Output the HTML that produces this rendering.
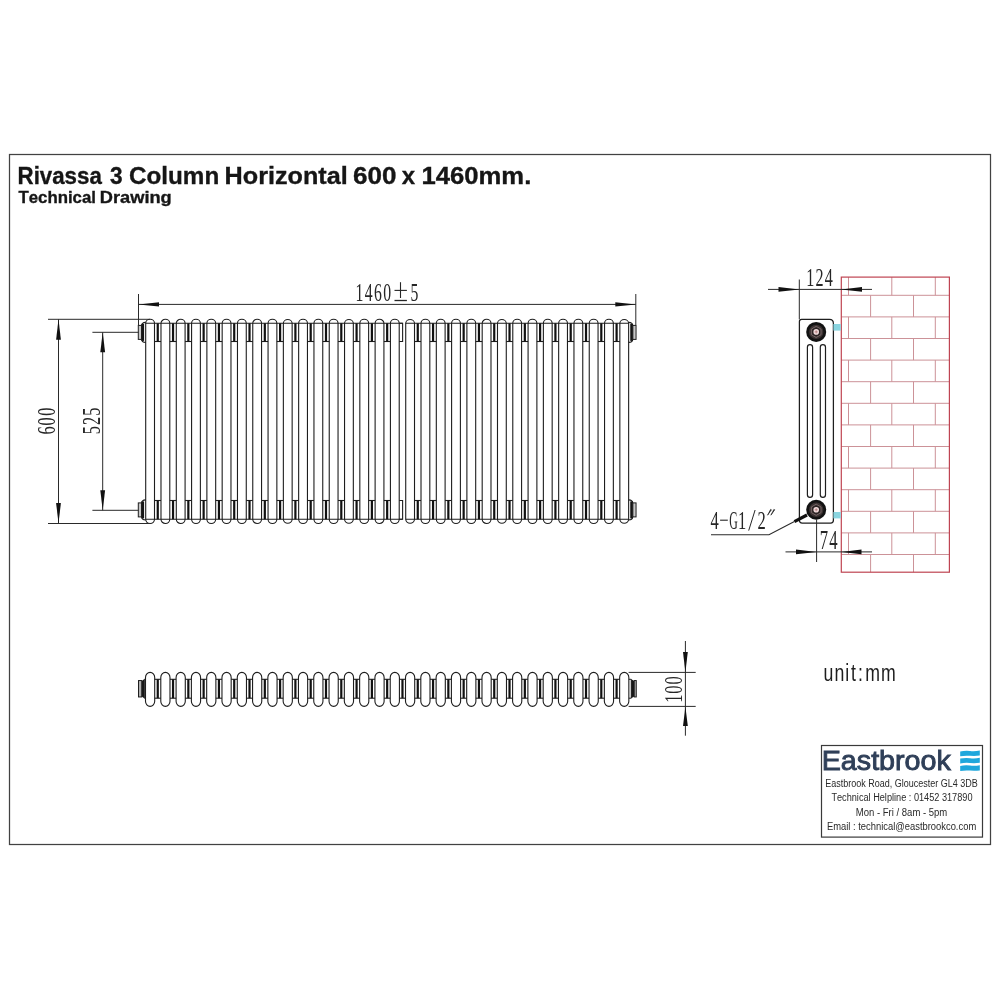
<!DOCTYPE html>
<html><head><meta charset="utf-8">
<style>
html,body{margin:0;padding:0;background:#fff;width:1000px;height:1000px;overflow:hidden}
svg{display:block;will-change:transform}
text{font-kerning:none}
</style></head><body>
<svg width="1000" height="1000" viewBox="0 0 1000 1000">
<rect width="1000" height="1000" fill="#fff"/>
<g fill="none" stroke="#1e1e1e" stroke-width="1.1">
<path d="M145.70,519.30 L145.70,323.30 A4.40,4.00 0 0 1 154.50,323.30 L154.50,519.30 A4.40,4.20 0 0 1 145.70,519.30"/>
<path d="M160.99,519.30 L160.99,323.30 A4.40,4.00 0 0 1 169.79,323.30 L169.79,519.30 A4.40,4.20 0 0 1 160.99,519.30"/>
<path d="M176.29,519.30 L176.29,323.30 A4.40,4.00 0 0 1 185.09,323.30 L185.09,519.30 A4.40,4.20 0 0 1 176.29,519.30"/>
<path d="M191.58,519.30 L191.58,323.30 A4.40,4.00 0 0 1 200.38,323.30 L200.38,519.30 A4.40,4.20 0 0 1 191.58,519.30"/>
<path d="M206.88,519.30 L206.88,323.30 A4.40,4.00 0 0 1 215.68,323.30 L215.68,519.30 A4.40,4.20 0 0 1 206.88,519.30"/>
<path d="M222.17,519.30 L222.17,323.30 A4.40,4.00 0 0 1 230.97,323.30 L230.97,519.30 A4.40,4.20 0 0 1 222.17,519.30"/>
<path d="M237.47,519.30 L237.47,323.30 A4.40,4.00 0 0 1 246.27,323.30 L246.27,519.30 A4.40,4.20 0 0 1 237.47,519.30"/>
<path d="M252.76,519.30 L252.76,323.30 A4.40,4.00 0 0 1 261.56,323.30 L261.56,519.30 A4.40,4.20 0 0 1 252.76,519.30"/>
<path d="M268.06,519.30 L268.06,323.30 A4.40,4.00 0 0 1 276.86,323.30 L276.86,519.30 A4.40,4.20 0 0 1 268.06,519.30"/>
<path d="M283.36,519.30 L283.36,323.30 A4.40,4.00 0 0 1 292.15,323.30 L292.15,519.30 A4.40,4.20 0 0 1 283.36,519.30"/>
<path d="M298.65,519.30 L298.65,323.30 A4.40,4.00 0 0 1 307.45,323.30 L307.45,519.30 A4.40,4.20 0 0 1 298.65,519.30"/>
<path d="M313.95,519.30 L313.95,323.30 A4.40,4.00 0 0 1 322.75,323.30 L322.75,519.30 A4.40,4.20 0 0 1 313.95,519.30"/>
<path d="M329.24,519.30 L329.24,323.30 A4.40,4.00 0 0 1 338.04,323.30 L338.04,519.30 A4.40,4.20 0 0 1 329.24,519.30"/>
<path d="M344.54,519.30 L344.54,323.30 A4.40,4.00 0 0 1 353.33,323.30 L353.33,519.30 A4.40,4.20 0 0 1 344.54,519.30"/>
<path d="M359.83,519.30 L359.83,323.30 A4.40,4.00 0 0 1 368.63,323.30 L368.63,519.30 A4.40,4.20 0 0 1 359.83,519.30"/>
<path d="M375.12,519.30 L375.12,323.30 A4.40,4.00 0 0 1 383.92,323.30 L383.92,519.30 A4.40,4.20 0 0 1 375.12,519.30"/>
<path d="M390.42,519.30 L390.42,323.30 A4.40,4.00 0 0 1 399.22,323.30 L399.22,519.30 A4.40,4.20 0 0 1 390.42,519.30"/>
<path d="M405.72,519.30 L405.72,323.30 A4.40,4.00 0 0 1 414.51,323.30 L414.51,519.30 A4.40,4.20 0 0 1 405.72,519.30"/>
<path d="M421.01,519.30 L421.01,323.30 A4.40,4.00 0 0 1 429.81,323.30 L429.81,519.30 A4.40,4.20 0 0 1 421.01,519.30"/>
<path d="M436.31,519.30 L436.31,323.30 A4.40,4.00 0 0 1 445.11,323.30 L445.11,519.30 A4.40,4.20 0 0 1 436.31,519.30"/>
<path d="M451.60,519.30 L451.60,323.30 A4.40,4.00 0 0 1 460.40,323.30 L460.40,519.30 A4.40,4.20 0 0 1 451.60,519.30"/>
<path d="M466.89,519.30 L466.89,323.30 A4.40,4.00 0 0 1 475.69,323.30 L475.69,519.30 A4.40,4.20 0 0 1 466.89,519.30"/>
<path d="M482.19,519.30 L482.19,323.30 A4.40,4.00 0 0 1 490.99,323.30 L490.99,519.30 A4.40,4.20 0 0 1 482.19,519.30"/>
<path d="M497.49,519.30 L497.49,323.30 A4.40,4.00 0 0 1 506.28,323.30 L506.28,519.30 A4.40,4.20 0 0 1 497.49,519.30"/>
<path d="M512.78,519.30 L512.78,323.30 A4.40,4.00 0 0 1 521.58,323.30 L521.58,519.30 A4.40,4.20 0 0 1 512.78,519.30"/>
<path d="M528.08,519.30 L528.08,323.30 A4.40,4.00 0 0 1 536.88,323.30 L536.88,519.30 A4.40,4.20 0 0 1 528.08,519.30"/>
<path d="M543.37,519.30 L543.37,323.30 A4.40,4.00 0 0 1 552.17,323.30 L552.17,519.30 A4.40,4.20 0 0 1 543.37,519.30"/>
<path d="M558.66,519.30 L558.66,323.30 A4.40,4.00 0 0 1 567.46,323.30 L567.46,519.30 A4.40,4.20 0 0 1 558.66,519.30"/>
<path d="M573.96,519.30 L573.96,323.30 A4.40,4.00 0 0 1 582.76,323.30 L582.76,519.30 A4.40,4.20 0 0 1 573.96,519.30"/>
<path d="M589.25,519.30 L589.25,323.30 A4.40,4.00 0 0 1 598.05,323.30 L598.05,519.30 A4.40,4.20 0 0 1 589.25,519.30"/>
<path d="M604.55,519.30 L604.55,323.30 A4.40,4.00 0 0 1 613.35,323.30 L613.35,519.30 A4.40,4.20 0 0 1 604.55,519.30"/>
<path d="M619.85,519.30 L619.85,323.30 A4.40,4.00 0 0 1 628.64,323.30 L628.64,519.30 A4.40,4.20 0 0 1 619.85,519.30"/>
<line x1="145.70" y1="323.3" x2="402.62" y2="323.3"/>
<line x1="405.72" y1="323.3" x2="628.64" y2="323.3"/>
<line x1="145.70" y1="519.3" x2="402.62" y2="519.3"/>
<line x1="405.72" y1="519.3" x2="628.64" y2="519.3"/>
<line x1="154.50" y1="341.5" x2="160.99" y2="341.5"/>
<line x1="154.50" y1="500.5" x2="160.99" y2="500.5"/>
<line x1="169.79" y1="341.5" x2="176.29" y2="341.5"/>
<line x1="169.79" y1="500.5" x2="176.29" y2="500.5"/>
<line x1="185.09" y1="341.5" x2="191.58" y2="341.5"/>
<line x1="185.09" y1="500.5" x2="191.58" y2="500.5"/>
<line x1="200.38" y1="341.5" x2="206.88" y2="341.5"/>
<line x1="200.38" y1="500.5" x2="206.88" y2="500.5"/>
<line x1="215.68" y1="341.5" x2="222.17" y2="341.5"/>
<line x1="215.68" y1="500.5" x2="222.17" y2="500.5"/>
<line x1="230.97" y1="341.5" x2="237.47" y2="341.5"/>
<line x1="230.97" y1="500.5" x2="237.47" y2="500.5"/>
<line x1="246.27" y1="341.5" x2="252.76" y2="341.5"/>
<line x1="246.27" y1="500.5" x2="252.76" y2="500.5"/>
<line x1="261.56" y1="341.5" x2="268.06" y2="341.5"/>
<line x1="261.56" y1="500.5" x2="268.06" y2="500.5"/>
<line x1="276.86" y1="341.5" x2="283.36" y2="341.5"/>
<line x1="276.86" y1="500.5" x2="283.36" y2="500.5"/>
<line x1="292.15" y1="341.5" x2="298.65" y2="341.5"/>
<line x1="292.15" y1="500.5" x2="298.65" y2="500.5"/>
<line x1="307.45" y1="341.5" x2="313.95" y2="341.5"/>
<line x1="307.45" y1="500.5" x2="313.95" y2="500.5"/>
<line x1="322.75" y1="341.5" x2="329.24" y2="341.5"/>
<line x1="322.75" y1="500.5" x2="329.24" y2="500.5"/>
<line x1="338.04" y1="341.5" x2="344.54" y2="341.5"/>
<line x1="338.04" y1="500.5" x2="344.54" y2="500.5"/>
<line x1="353.33" y1="341.5" x2="359.83" y2="341.5"/>
<line x1="353.33" y1="500.5" x2="359.83" y2="500.5"/>
<line x1="368.63" y1="341.5" x2="375.12" y2="341.5"/>
<line x1="368.63" y1="500.5" x2="375.12" y2="500.5"/>
<line x1="383.92" y1="341.5" x2="390.42" y2="341.5"/>
<line x1="383.92" y1="500.5" x2="390.42" y2="500.5"/>
<polyline points="399.22,323.3 402.62,323.3 402.62,341.5 399.22,341.5"/>
<polyline points="399.22,500.5 402.62,500.5 402.62,519.3 399.22,519.3"/>
<line x1="414.51" y1="341.5" x2="421.01" y2="341.5"/>
<line x1="414.51" y1="500.5" x2="421.01" y2="500.5"/>
<line x1="429.81" y1="341.5" x2="436.31" y2="341.5"/>
<line x1="429.81" y1="500.5" x2="436.31" y2="500.5"/>
<line x1="445.11" y1="341.5" x2="451.60" y2="341.5"/>
<line x1="445.11" y1="500.5" x2="451.60" y2="500.5"/>
<line x1="460.40" y1="341.5" x2="466.89" y2="341.5"/>
<line x1="460.40" y1="500.5" x2="466.89" y2="500.5"/>
<line x1="475.69" y1="341.5" x2="482.19" y2="341.5"/>
<line x1="475.69" y1="500.5" x2="482.19" y2="500.5"/>
<line x1="490.99" y1="341.5" x2="497.49" y2="341.5"/>
<line x1="490.99" y1="500.5" x2="497.49" y2="500.5"/>
<line x1="506.28" y1="341.5" x2="512.78" y2="341.5"/>
<line x1="506.28" y1="500.5" x2="512.78" y2="500.5"/>
<line x1="521.58" y1="341.5" x2="528.08" y2="341.5"/>
<line x1="521.58" y1="500.5" x2="528.08" y2="500.5"/>
<line x1="536.88" y1="341.5" x2="543.37" y2="341.5"/>
<line x1="536.88" y1="500.5" x2="543.37" y2="500.5"/>
<line x1="552.17" y1="341.5" x2="558.66" y2="341.5"/>
<line x1="552.17" y1="500.5" x2="558.66" y2="500.5"/>
<line x1="567.46" y1="341.5" x2="573.96" y2="341.5"/>
<line x1="567.46" y1="500.5" x2="573.96" y2="500.5"/>
<line x1="582.76" y1="341.5" x2="589.25" y2="341.5"/>
<line x1="582.76" y1="500.5" x2="589.25" y2="500.5"/>
<line x1="598.05" y1="341.5" x2="604.55" y2="341.5"/>
<line x1="598.05" y1="500.5" x2="604.55" y2="500.5"/>
<line x1="613.35" y1="341.5" x2="619.85" y2="341.5"/>
<line x1="613.35" y1="500.5" x2="619.85" y2="500.5"/>
</g>
<rect x="156.65" y="323.30" width="2.2" height="18.20" fill="#111"/>
<rect x="156.65" y="500.50" width="2.2" height="18.80" fill="#111"/>
<rect x="171.94" y="323.30" width="2.2" height="18.20" fill="#111"/>
<rect x="171.94" y="500.50" width="2.2" height="18.80" fill="#111"/>
<rect x="187.24" y="323.30" width="2.2" height="18.20" fill="#111"/>
<rect x="187.24" y="500.50" width="2.2" height="18.80" fill="#111"/>
<rect x="202.53" y="323.30" width="2.2" height="18.20" fill="#111"/>
<rect x="202.53" y="500.50" width="2.2" height="18.80" fill="#111"/>
<rect x="217.83" y="323.30" width="2.2" height="18.20" fill="#111"/>
<rect x="217.83" y="500.50" width="2.2" height="18.80" fill="#111"/>
<rect x="233.12" y="323.30" width="2.2" height="18.20" fill="#111"/>
<rect x="233.12" y="500.50" width="2.2" height="18.80" fill="#111"/>
<rect x="248.42" y="323.30" width="2.2" height="18.20" fill="#111"/>
<rect x="248.42" y="500.50" width="2.2" height="18.80" fill="#111"/>
<rect x="263.71" y="323.30" width="2.2" height="18.20" fill="#111"/>
<rect x="263.71" y="500.50" width="2.2" height="18.80" fill="#111"/>
<rect x="279.01" y="323.30" width="2.2" height="18.20" fill="#111"/>
<rect x="279.01" y="500.50" width="2.2" height="18.80" fill="#111"/>
<rect x="294.30" y="323.30" width="2.2" height="18.20" fill="#111"/>
<rect x="294.30" y="500.50" width="2.2" height="18.80" fill="#111"/>
<rect x="309.60" y="323.30" width="2.2" height="18.20" fill="#111"/>
<rect x="309.60" y="500.50" width="2.2" height="18.80" fill="#111"/>
<rect x="324.89" y="323.30" width="2.2" height="18.20" fill="#111"/>
<rect x="324.89" y="500.50" width="2.2" height="18.80" fill="#111"/>
<rect x="340.19" y="323.30" width="2.2" height="18.20" fill="#111"/>
<rect x="340.19" y="500.50" width="2.2" height="18.80" fill="#111"/>
<rect x="355.48" y="323.30" width="2.2" height="18.20" fill="#111"/>
<rect x="355.48" y="500.50" width="2.2" height="18.80" fill="#111"/>
<rect x="370.78" y="323.30" width="2.2" height="18.20" fill="#111"/>
<rect x="370.78" y="500.50" width="2.2" height="18.80" fill="#111"/>
<rect x="386.07" y="323.30" width="2.2" height="18.20" fill="#111"/>
<rect x="386.07" y="500.50" width="2.2" height="18.80" fill="#111"/>
<rect x="416.66" y="323.30" width="2.2" height="18.20" fill="#111"/>
<rect x="416.66" y="500.50" width="2.2" height="18.80" fill="#111"/>
<rect x="431.96" y="323.30" width="2.2" height="18.20" fill="#111"/>
<rect x="431.96" y="500.50" width="2.2" height="18.80" fill="#111"/>
<rect x="447.25" y="323.30" width="2.2" height="18.20" fill="#111"/>
<rect x="447.25" y="500.50" width="2.2" height="18.80" fill="#111"/>
<rect x="462.55" y="323.30" width="2.2" height="18.20" fill="#111"/>
<rect x="462.55" y="500.50" width="2.2" height="18.80" fill="#111"/>
<rect x="477.84" y="323.30" width="2.2" height="18.20" fill="#111"/>
<rect x="477.84" y="500.50" width="2.2" height="18.80" fill="#111"/>
<rect x="493.14" y="323.30" width="2.2" height="18.20" fill="#111"/>
<rect x="493.14" y="500.50" width="2.2" height="18.80" fill="#111"/>
<rect x="508.43" y="323.30" width="2.2" height="18.20" fill="#111"/>
<rect x="508.43" y="500.50" width="2.2" height="18.80" fill="#111"/>
<rect x="523.73" y="323.30" width="2.2" height="18.20" fill="#111"/>
<rect x="523.73" y="500.50" width="2.2" height="18.80" fill="#111"/>
<rect x="539.02" y="323.30" width="2.2" height="18.20" fill="#111"/>
<rect x="539.02" y="500.50" width="2.2" height="18.80" fill="#111"/>
<rect x="554.32" y="323.30" width="2.2" height="18.20" fill="#111"/>
<rect x="554.32" y="500.50" width="2.2" height="18.80" fill="#111"/>
<rect x="569.61" y="323.30" width="2.2" height="18.20" fill="#111"/>
<rect x="569.61" y="500.50" width="2.2" height="18.80" fill="#111"/>
<rect x="584.91" y="323.30" width="2.2" height="18.20" fill="#111"/>
<rect x="584.91" y="500.50" width="2.2" height="18.80" fill="#111"/>
<rect x="600.20" y="323.30" width="2.2" height="18.20" fill="#111"/>
<rect x="600.20" y="500.50" width="2.2" height="18.80" fill="#111"/>
<rect x="615.50" y="323.30" width="2.2" height="18.20" fill="#111"/>
<rect x="615.50" y="500.50" width="2.2" height="18.80" fill="#111"/>
<path d="M145.70,322.40 Q141.50,322.40 141.50,326.40 L141.50,338.40 Q141.50,342.40 145.70,342.40" fill="none" stroke="#1e1e1e" stroke-width="1.1"/>
<rect x="141.50" y="323.90" width="2.6" height="17.00" fill="#151515"/>
<rect x="138.30" y="325.40" width="3.2" height="14" fill="#c8c8c8" stroke="#1e1e1e" stroke-width="1"/>
<path d="M145.70,499.90 Q141.50,499.90 141.50,503.90 L141.50,515.90 Q141.50,519.90 145.70,519.90" fill="none" stroke="#1e1e1e" stroke-width="1.1"/>
<rect x="141.50" y="501.40" width="2.6" height="17.00" fill="#151515"/>
<rect x="138.30" y="502.90" width="3.2" height="14" fill="#c8c8c8" stroke="#1e1e1e" stroke-width="1"/>
<path d="M628.64,322.40 Q632.85,322.40 632.85,326.40 L632.85,338.40 Q632.85,342.40 628.64,342.40" fill="none" stroke="#1e1e1e" stroke-width="1.1"/>
<rect x="630.25" y="323.90" width="2.6" height="17.00" fill="#151515"/>
<rect x="632.85" y="325.40" width="3.2" height="14" fill="#c8c8c8" stroke="#1e1e1e" stroke-width="1"/>
<path d="M628.64,499.90 Q632.85,499.90 632.85,503.90 L632.85,515.90 Q632.85,519.90 628.64,519.90" fill="none" stroke="#1e1e1e" stroke-width="1.1"/>
<rect x="630.25" y="501.40" width="2.6" height="17.00" fill="#151515"/>
<rect x="632.85" y="502.90" width="3.2" height="14" fill="#c8c8c8" stroke="#1e1e1e" stroke-width="1"/>
<line x1="138.50" y1="294.00" x2="138.50" y2="326.00" stroke="#2a2a2a" stroke-width="1"/>
<line x1="635.80" y1="294.00" x2="635.80" y2="325.00" stroke="#2a2a2a" stroke-width="1"/>
<line x1="138.50" y1="304.40" x2="635.80" y2="304.40" stroke="#2a2a2a" stroke-width="1"/>
<polygon points="138.50,304.40 159.00,306.50 159.00,302.30" fill="#111"/>
<polygon points="635.80,304.40 615.30,302.30 615.30,306.50" fill="#111"/>
<line x1="48.00" y1="319.30" x2="150.00" y2="319.30" stroke="#2a2a2a" stroke-width="1"/>
<line x1="48.00" y1="523.50" x2="150.00" y2="523.50" stroke="#2a2a2a" stroke-width="1"/>
<line x1="58.50" y1="319.30" x2="58.50" y2="523.50" stroke="#2a2a2a" stroke-width="1"/>
<polygon points="58.50,319.30 56.10,339.80 60.90,339.80" fill="#111"/>
<polygon points="58.50,523.50 60.90,503.00 56.10,503.00" fill="#111"/>
<line x1="92.40" y1="332.30" x2="138.50" y2="332.30" stroke="#2a2a2a" stroke-width="1"/>
<line x1="92.40" y1="510.30" x2="138.50" y2="510.30" stroke="#2a2a2a" stroke-width="1"/>
<line x1="102.70" y1="332.30" x2="102.70" y2="510.30" stroke="#2a2a2a" stroke-width="1"/>
<polygon points="102.70,332.30 100.30,352.30 105.10,352.30" fill="#111"/>
<polygon points="102.70,510.30 105.10,490.30 100.30,490.30" fill="#111"/>
<g fill="none" stroke="#1e1e1e" stroke-width="1.1">
<rect x="145.50" y="672.4" width="9.20" height="34.00" rx="4.60" ry="5.10"/>
<rect x="160.79" y="672.4" width="9.20" height="34.00" rx="4.60" ry="5.10"/>
<rect x="176.09" y="672.4" width="9.20" height="34.00" rx="4.60" ry="5.10"/>
<rect x="191.38" y="672.4" width="9.20" height="34.00" rx="4.60" ry="5.10"/>
<rect x="206.68" y="672.4" width="9.20" height="34.00" rx="4.60" ry="5.10"/>
<rect x="221.97" y="672.4" width="9.20" height="34.00" rx="4.60" ry="5.10"/>
<rect x="237.27" y="672.4" width="9.20" height="34.00" rx="4.60" ry="5.10"/>
<rect x="252.56" y="672.4" width="9.20" height="34.00" rx="4.60" ry="5.10"/>
<rect x="267.86" y="672.4" width="9.20" height="34.00" rx="4.60" ry="5.10"/>
<rect x="283.15" y="672.4" width="9.20" height="34.00" rx="4.60" ry="5.10"/>
<rect x="298.45" y="672.4" width="9.20" height="34.00" rx="4.60" ry="5.10"/>
<rect x="313.75" y="672.4" width="9.20" height="34.00" rx="4.60" ry="5.10"/>
<rect x="329.04" y="672.4" width="9.20" height="34.00" rx="4.60" ry="5.10"/>
<rect x="344.33" y="672.4" width="9.20" height="34.00" rx="4.60" ry="5.10"/>
<rect x="359.63" y="672.4" width="9.20" height="34.00" rx="4.60" ry="5.10"/>
<rect x="374.92" y="672.4" width="9.20" height="34.00" rx="4.60" ry="5.10"/>
<rect x="390.22" y="672.4" width="9.20" height="34.00" rx="4.60" ry="5.10"/>
<rect x="405.51" y="672.4" width="9.20" height="34.00" rx="4.60" ry="5.10"/>
<rect x="420.81" y="672.4" width="9.20" height="34.00" rx="4.60" ry="5.10"/>
<rect x="436.11" y="672.4" width="9.20" height="34.00" rx="4.60" ry="5.10"/>
<rect x="451.40" y="672.4" width="9.20" height="34.00" rx="4.60" ry="5.10"/>
<rect x="466.69" y="672.4" width="9.20" height="34.00" rx="4.60" ry="5.10"/>
<rect x="481.99" y="672.4" width="9.20" height="34.00" rx="4.60" ry="5.10"/>
<rect x="497.28" y="672.4" width="9.20" height="34.00" rx="4.60" ry="5.10"/>
<rect x="512.58" y="672.4" width="9.20" height="34.00" rx="4.60" ry="5.10"/>
<rect x="527.88" y="672.4" width="9.20" height="34.00" rx="4.60" ry="5.10"/>
<rect x="543.17" y="672.4" width="9.20" height="34.00" rx="4.60" ry="5.10"/>
<rect x="558.46" y="672.4" width="9.20" height="34.00" rx="4.60" ry="5.10"/>
<rect x="573.76" y="672.4" width="9.20" height="34.00" rx="4.60" ry="5.10"/>
<rect x="589.05" y="672.4" width="9.20" height="34.00" rx="4.60" ry="5.10"/>
<rect x="604.35" y="672.4" width="9.20" height="34.00" rx="4.60" ry="5.10"/>
<rect x="619.64" y="672.4" width="9.20" height="34.00" rx="4.60" ry="5.10"/>
<line x1="154.70" y1="679.3" x2="160.79" y2="679.3"/>
<line x1="154.70" y1="698.2" x2="160.79" y2="698.2"/>
<line x1="169.99" y1="679.3" x2="176.09" y2="679.3"/>
<line x1="169.99" y1="698.2" x2="176.09" y2="698.2"/>
<line x1="185.29" y1="679.3" x2="191.38" y2="679.3"/>
<line x1="185.29" y1="698.2" x2="191.38" y2="698.2"/>
<line x1="200.58" y1="679.3" x2="206.68" y2="679.3"/>
<line x1="200.58" y1="698.2" x2="206.68" y2="698.2"/>
<line x1="215.88" y1="679.3" x2="221.97" y2="679.3"/>
<line x1="215.88" y1="698.2" x2="221.97" y2="698.2"/>
<line x1="231.17" y1="679.3" x2="237.27" y2="679.3"/>
<line x1="231.17" y1="698.2" x2="237.27" y2="698.2"/>
<line x1="246.47" y1="679.3" x2="252.56" y2="679.3"/>
<line x1="246.47" y1="698.2" x2="252.56" y2="698.2"/>
<line x1="261.76" y1="679.3" x2="267.86" y2="679.3"/>
<line x1="261.76" y1="698.2" x2="267.86" y2="698.2"/>
<line x1="277.06" y1="679.3" x2="283.15" y2="679.3"/>
<line x1="277.06" y1="698.2" x2="283.15" y2="698.2"/>
<line x1="292.36" y1="679.3" x2="298.45" y2="679.3"/>
<line x1="292.36" y1="698.2" x2="298.45" y2="698.2"/>
<line x1="307.65" y1="679.3" x2="313.75" y2="679.3"/>
<line x1="307.65" y1="698.2" x2="313.75" y2="698.2"/>
<line x1="322.95" y1="679.3" x2="329.04" y2="679.3"/>
<line x1="322.95" y1="698.2" x2="329.04" y2="698.2"/>
<line x1="338.24" y1="679.3" x2="344.33" y2="679.3"/>
<line x1="338.24" y1="698.2" x2="344.33" y2="698.2"/>
<line x1="353.54" y1="679.3" x2="359.63" y2="679.3"/>
<line x1="353.54" y1="698.2" x2="359.63" y2="698.2"/>
<line x1="368.83" y1="679.3" x2="374.92" y2="679.3"/>
<line x1="368.83" y1="698.2" x2="374.92" y2="698.2"/>
<line x1="384.12" y1="679.3" x2="390.22" y2="679.3"/>
<line x1="384.12" y1="698.2" x2="390.22" y2="698.2"/>
<line x1="399.42" y1="679.3" x2="405.51" y2="679.3"/>
<line x1="399.42" y1="698.2" x2="405.51" y2="698.2"/>
<line x1="414.72" y1="679.3" x2="420.81" y2="679.3"/>
<line x1="414.72" y1="698.2" x2="420.81" y2="698.2"/>
<line x1="430.01" y1="679.3" x2="436.11" y2="679.3"/>
<line x1="430.01" y1="698.2" x2="436.11" y2="698.2"/>
<line x1="445.31" y1="679.3" x2="451.40" y2="679.3"/>
<line x1="445.31" y1="698.2" x2="451.40" y2="698.2"/>
<line x1="460.60" y1="679.3" x2="466.69" y2="679.3"/>
<line x1="460.60" y1="698.2" x2="466.69" y2="698.2"/>
<line x1="475.89" y1="679.3" x2="481.99" y2="679.3"/>
<line x1="475.89" y1="698.2" x2="481.99" y2="698.2"/>
<line x1="491.19" y1="679.3" x2="497.28" y2="679.3"/>
<line x1="491.19" y1="698.2" x2="497.28" y2="698.2"/>
<line x1="506.49" y1="679.3" x2="512.58" y2="679.3"/>
<line x1="506.49" y1="698.2" x2="512.58" y2="698.2"/>
<line x1="521.78" y1="679.3" x2="527.88" y2="679.3"/>
<line x1="521.78" y1="698.2" x2="527.88" y2="698.2"/>
<line x1="537.08" y1="679.3" x2="543.17" y2="679.3"/>
<line x1="537.08" y1="698.2" x2="543.17" y2="698.2"/>
<line x1="552.37" y1="679.3" x2="558.46" y2="679.3"/>
<line x1="552.37" y1="698.2" x2="558.46" y2="698.2"/>
<line x1="567.66" y1="679.3" x2="573.76" y2="679.3"/>
<line x1="567.66" y1="698.2" x2="573.76" y2="698.2"/>
<line x1="582.96" y1="679.3" x2="589.05" y2="679.3"/>
<line x1="582.96" y1="698.2" x2="589.05" y2="698.2"/>
<line x1="598.25" y1="679.3" x2="604.35" y2="679.3"/>
<line x1="598.25" y1="698.2" x2="604.35" y2="698.2"/>
<line x1="613.55" y1="679.3" x2="619.64" y2="679.3"/>
<line x1="613.55" y1="698.2" x2="619.64" y2="698.2"/>
</g>
<rect x="156.65" y="679.30" width="2.2" height="18.90" fill="#111"/>
<rect x="171.94" y="679.30" width="2.2" height="18.90" fill="#111"/>
<rect x="187.24" y="679.30" width="2.2" height="18.90" fill="#111"/>
<rect x="202.53" y="679.30" width="2.2" height="18.90" fill="#111"/>
<rect x="217.83" y="679.30" width="2.2" height="18.90" fill="#111"/>
<rect x="233.12" y="679.30" width="2.2" height="18.90" fill="#111"/>
<rect x="248.42" y="679.30" width="2.2" height="18.90" fill="#111"/>
<rect x="263.71" y="679.30" width="2.2" height="18.90" fill="#111"/>
<rect x="279.01" y="679.30" width="2.2" height="18.90" fill="#111"/>
<rect x="294.30" y="679.30" width="2.2" height="18.90" fill="#111"/>
<rect x="309.60" y="679.30" width="2.2" height="18.90" fill="#111"/>
<rect x="324.89" y="679.30" width="2.2" height="18.90" fill="#111"/>
<rect x="340.19" y="679.30" width="2.2" height="18.90" fill="#111"/>
<rect x="355.48" y="679.30" width="2.2" height="18.90" fill="#111"/>
<rect x="370.78" y="679.30" width="2.2" height="18.90" fill="#111"/>
<rect x="386.07" y="679.30" width="2.2" height="18.90" fill="#111"/>
<rect x="401.37" y="679.30" width="2.2" height="18.90" fill="#111"/>
<rect x="416.66" y="679.30" width="2.2" height="18.90" fill="#111"/>
<rect x="431.96" y="679.30" width="2.2" height="18.90" fill="#111"/>
<rect x="447.25" y="679.30" width="2.2" height="18.90" fill="#111"/>
<rect x="462.55" y="679.30" width="2.2" height="18.90" fill="#111"/>
<rect x="477.84" y="679.30" width="2.2" height="18.90" fill="#111"/>
<rect x="493.14" y="679.30" width="2.2" height="18.90" fill="#111"/>
<rect x="508.43" y="679.30" width="2.2" height="18.90" fill="#111"/>
<rect x="523.73" y="679.30" width="2.2" height="18.90" fill="#111"/>
<rect x="539.02" y="679.30" width="2.2" height="18.90" fill="#111"/>
<rect x="554.32" y="679.30" width="2.2" height="18.90" fill="#111"/>
<rect x="569.61" y="679.30" width="2.2" height="18.90" fill="#111"/>
<rect x="584.91" y="679.30" width="2.2" height="18.90" fill="#111"/>
<rect x="600.20" y="679.30" width="2.2" height="18.90" fill="#111"/>
<rect x="615.50" y="679.30" width="2.2" height="18.90" fill="#111"/>
<polyline points="145.50,679.30 144.30,679.30 144.30,698.20 145.50,698.20" fill="none" stroke="#1e1e1e" stroke-width="1"/>
<polygon points="144.30,679.30 141.70,680.90 141.70,696.60 144.30,698.20" fill="#161616"/>
<rect x="138.50" y="680.55" width="3.20" height="16.4" fill="#b0b0b0" stroke="#1e1e1e" stroke-width="1"/>
<polyline points="628.85,679.30 631.25,679.30 631.25,698.20 628.85,698.20" fill="none" stroke="#1e1e1e" stroke-width="1"/>
<polygon points="631.25,679.30 634.25,680.90 634.25,696.60 631.25,698.20" fill="#161616"/>
<rect x="634.25" y="680.55" width="2.00" height="16.4" fill="#b0b0b0" stroke="#1e1e1e" stroke-width="1"/>
<line x1="628.60" y1="672.40" x2="695.70" y2="672.40" stroke="#2a2a2a" stroke-width="1"/>
<line x1="628.60" y1="706.40" x2="695.70" y2="706.40" stroke="#2a2a2a" stroke-width="1"/>
<line x1="685.40" y1="641.00" x2="685.40" y2="735.70" stroke="#2a2a2a" stroke-width="1"/>
<polygon points="685.40,672.40 687.80,652.00 683.00,652.00" fill="#111"/>
<polygon points="685.40,706.40 683.00,726.00 687.80,726.00" fill="#111"/>
<line x1="848.50" y1="277.10" x2="848.50" y2="295.30" stroke="#cc9298" stroke-width="1"/>
<line x1="891.80" y1="277.10" x2="891.80" y2="295.30" stroke="#cc9298" stroke-width="1"/>
<line x1="935.30" y1="277.10" x2="935.30" y2="295.30" stroke="#cc9298" stroke-width="1"/>
<line x1="870.60" y1="295.30" x2="870.60" y2="316.90" stroke="#cc9298" stroke-width="1"/>
<line x1="913.50" y1="295.30" x2="913.50" y2="316.90" stroke="#cc9298" stroke-width="1"/>
<line x1="848.50" y1="316.90" x2="848.50" y2="338.50" stroke="#cc9298" stroke-width="1"/>
<line x1="891.80" y1="316.90" x2="891.80" y2="338.50" stroke="#cc9298" stroke-width="1"/>
<line x1="935.30" y1="316.90" x2="935.30" y2="338.50" stroke="#cc9298" stroke-width="1"/>
<line x1="870.60" y1="338.50" x2="870.60" y2="360.10" stroke="#cc9298" stroke-width="1"/>
<line x1="913.50" y1="338.50" x2="913.50" y2="360.10" stroke="#cc9298" stroke-width="1"/>
<line x1="848.50" y1="360.10" x2="848.50" y2="381.70" stroke="#cc9298" stroke-width="1"/>
<line x1="891.80" y1="360.10" x2="891.80" y2="381.70" stroke="#cc9298" stroke-width="1"/>
<line x1="935.30" y1="360.10" x2="935.30" y2="381.70" stroke="#cc9298" stroke-width="1"/>
<line x1="870.60" y1="381.70" x2="870.60" y2="403.30" stroke="#cc9298" stroke-width="1"/>
<line x1="913.50" y1="381.70" x2="913.50" y2="403.30" stroke="#cc9298" stroke-width="1"/>
<line x1="848.50" y1="403.30" x2="848.50" y2="424.90" stroke="#cc9298" stroke-width="1"/>
<line x1="891.80" y1="403.30" x2="891.80" y2="424.90" stroke="#cc9298" stroke-width="1"/>
<line x1="935.30" y1="403.30" x2="935.30" y2="424.90" stroke="#cc9298" stroke-width="1"/>
<line x1="870.60" y1="424.90" x2="870.60" y2="446.50" stroke="#cc9298" stroke-width="1"/>
<line x1="913.50" y1="424.90" x2="913.50" y2="446.50" stroke="#cc9298" stroke-width="1"/>
<line x1="848.50" y1="446.50" x2="848.50" y2="468.10" stroke="#cc9298" stroke-width="1"/>
<line x1="891.80" y1="446.50" x2="891.80" y2="468.10" stroke="#cc9298" stroke-width="1"/>
<line x1="935.30" y1="446.50" x2="935.30" y2="468.10" stroke="#cc9298" stroke-width="1"/>
<line x1="870.60" y1="468.10" x2="870.60" y2="489.70" stroke="#cc9298" stroke-width="1"/>
<line x1="913.50" y1="468.10" x2="913.50" y2="489.70" stroke="#cc9298" stroke-width="1"/>
<line x1="848.50" y1="489.70" x2="848.50" y2="511.30" stroke="#cc9298" stroke-width="1"/>
<line x1="891.80" y1="489.70" x2="891.80" y2="511.30" stroke="#cc9298" stroke-width="1"/>
<line x1="935.30" y1="489.70" x2="935.30" y2="511.30" stroke="#cc9298" stroke-width="1"/>
<line x1="870.60" y1="511.30" x2="870.60" y2="532.90" stroke="#cc9298" stroke-width="1"/>
<line x1="913.50" y1="511.30" x2="913.50" y2="532.90" stroke="#cc9298" stroke-width="1"/>
<line x1="848.50" y1="532.90" x2="848.50" y2="554.50" stroke="#cc9298" stroke-width="1"/>
<line x1="891.80" y1="532.90" x2="891.80" y2="554.50" stroke="#cc9298" stroke-width="1"/>
<line x1="935.30" y1="532.90" x2="935.30" y2="554.50" stroke="#cc9298" stroke-width="1"/>
<line x1="870.60" y1="554.50" x2="870.60" y2="572.20" stroke="#cc9298" stroke-width="1"/>
<line x1="913.50" y1="554.50" x2="913.50" y2="572.20" stroke="#cc9298" stroke-width="1"/>
<line x1="841.30" y1="295.30" x2="949.40" y2="295.30" stroke="#cc9298" stroke-width="1"/>
<line x1="841.30" y1="316.90" x2="949.40" y2="316.90" stroke="#cc9298" stroke-width="1"/>
<line x1="841.30" y1="338.50" x2="949.40" y2="338.50" stroke="#cc9298" stroke-width="1"/>
<line x1="841.30" y1="360.10" x2="949.40" y2="360.10" stroke="#cc9298" stroke-width="1"/>
<line x1="841.30" y1="381.70" x2="949.40" y2="381.70" stroke="#cc9298" stroke-width="1"/>
<line x1="841.30" y1="403.30" x2="949.40" y2="403.30" stroke="#cc9298" stroke-width="1"/>
<line x1="841.30" y1="424.90" x2="949.40" y2="424.90" stroke="#cc9298" stroke-width="1"/>
<line x1="841.30" y1="446.50" x2="949.40" y2="446.50" stroke="#cc9298" stroke-width="1"/>
<line x1="841.30" y1="468.10" x2="949.40" y2="468.10" stroke="#cc9298" stroke-width="1"/>
<line x1="841.30" y1="489.70" x2="949.40" y2="489.70" stroke="#cc9298" stroke-width="1"/>
<line x1="841.30" y1="511.30" x2="949.40" y2="511.30" stroke="#cc9298" stroke-width="1"/>
<line x1="841.30" y1="532.90" x2="949.40" y2="532.90" stroke="#cc9298" stroke-width="1"/>
<line x1="841.30" y1="554.50" x2="949.40" y2="554.50" stroke="#cc9298" stroke-width="1"/>
<rect x="841.3" y="277.1" width="108.10" height="295.10" fill="none" stroke="#bf4452" stroke-width="1.2"/>
<path d="M801.6,319.4 L829.4,319.4 Q833.4,319.4 833.4,323.4 L833.4,520.2 Q833.4,523.0 830.6,523.0 L802.2,523.0 Q799.4,523.0 799.4,520.2 L799.4,321.6 Q799.4,319.4 801.6,319.4 Z" fill="none" stroke="#1e1e1e" stroke-width="1.25"/>
<rect x="807.4" y="344.7" width="5.2" height="152.7" rx="2.6" fill="none" stroke="#1e1e1e" stroke-width="1.2"/>
<rect x="820.3" y="344.7" width="5.2" height="152.7" rx="2.6" fill="none" stroke="#1e1e1e" stroke-width="1.2"/>
<circle cx="816.2" cy="331.9" r="10" fill="#121212"/>
<circle cx="816.2" cy="331.9" r="7.2" fill="#3a3131"/>
<polygon points="821.05,334.70 816.20,337.50 811.35,334.70 811.35,329.10 816.20,326.30 821.05,329.10" fill="none" stroke="#7a6a6a" stroke-width="0.9"/>
<circle cx="816.2" cy="331.9" r="4.0" fill="#2a2222"/>
<circle cx="816.2" cy="331.9" r="2.8" fill="#f2dcdc"/>
<line x1="814.6" y1="331.9" x2="817.8000000000001" y2="331.9" stroke="#9a5a5a" stroke-width="0.6"/>
<line x1="816.2" y1="330.29999999999995" x2="816.2" y2="333.5" stroke="#9a5a5a" stroke-width="0.6"/>
<circle cx="816.2" cy="509.8" r="10" fill="#121212"/>
<circle cx="816.2" cy="509.8" r="7.2" fill="#3a3131"/>
<polygon points="821.05,512.60 816.20,515.40 811.35,512.60 811.35,507.00 816.20,504.20 821.05,507.00" fill="none" stroke="#7a6a6a" stroke-width="0.9"/>
<circle cx="816.2" cy="509.8" r="4.0" fill="#2a2222"/>
<circle cx="816.2" cy="509.8" r="2.8" fill="#f2dcdc"/>
<line x1="814.6" y1="509.8" x2="817.8000000000001" y2="509.8" stroke="#9a5a5a" stroke-width="0.6"/>
<line x1="816.2" y1="508.2" x2="816.2" y2="511.40000000000003" stroke="#9a5a5a" stroke-width="0.6"/>
<rect x="833.4" y="324" width="7.4" height="6.6" fill="#8ad5e0"/>
<rect x="833.4" y="512" width="7.4" height="6.4" fill="#8ad5e0"/>
<line x1="768.00" y1="289.40" x2="872.00" y2="289.40" stroke="#2a2a2a" stroke-width="1"/>
<line x1="799.30" y1="279.50" x2="799.30" y2="319.30" stroke="#2a2a2a" stroke-width="1"/>
<polygon points="799.30,289.40 778.50,287.10 778.50,291.70" fill="#111"/>
<polygon points="841.30,289.40 862.00,291.70 862.00,287.10" fill="#111"/>
<line x1="785.50" y1="551.90" x2="872.00" y2="551.90" stroke="#2a2a2a" stroke-width="1"/>
<line x1="816.60" y1="519.50" x2="816.60" y2="562.00" stroke="#2a2a2a" stroke-width="1"/>
<polygon points="816.60,551.90 796.00,549.60 796.00,554.20" fill="#111"/>
<polygon points="841.30,551.90 861.50,554.20 861.50,549.60" fill="#111"/>
<polyline points="711,534.7 769.0,534.7 794.4,521.6" fill="none" stroke="#2a2a2a" stroke-width="1.1"/>
<line x1="794.4" y1="521.6" x2="807" y2="515" stroke="#111" stroke-width="3.2"/>
<rect x="9.5" y="154.5" width="981" height="690" fill="none" stroke="#424242" stroke-width="1.25"/>
<text transform="translate(359.30,300.50) scale(0.63,1)" text-anchor="middle" font-family="'Liberation Serif', serif" font-size="24.96" fill="#262626">1</text><text transform="translate(368.70,300.50) scale(0.63,1)" text-anchor="middle" font-family="'Liberation Serif', serif" font-size="24.96" fill="#262626">4</text><text transform="translate(377.80,300.50) scale(0.63,1)" text-anchor="middle" font-family="'Liberation Serif', serif" font-size="24.96" fill="#262626">6</text><text transform="translate(387.20,300.50) scale(0.63,1)" text-anchor="middle" font-family="'Liberation Serif', serif" font-size="24.96" fill="#262626">0</text><text transform="translate(414.40,300.50) scale(0.63,1)" text-anchor="middle" font-family="'Liberation Serif', serif" font-size="24.96" fill="#262626">5</text>
<line x1="394.50" y1="290.40" x2="406.90" y2="290.40" stroke="#262626" stroke-width="1.1"/>
<line x1="400.50" y1="282.20" x2="400.50" y2="298.00" stroke="#262626" stroke-width="1.1"/>
<line x1="394.50" y1="300.50" x2="406.90" y2="300.50" stroke="#262626" stroke-width="1.3"/>
<text transform="translate(55.30,430.30) rotate(-90) scale(0.63,1)" text-anchor="middle" font-family="'Liberation Serif', serif" font-size="26.02" fill="#262626">6</text><text transform="translate(55.30,421.30) rotate(-90) scale(0.63,1)" text-anchor="middle" font-family="'Liberation Serif', serif" font-size="26.02" fill="#262626">0</text><text transform="translate(55.30,411.70) rotate(-90) scale(0.63,1)" text-anchor="middle" font-family="'Liberation Serif', serif" font-size="26.02" fill="#262626">0</text>
<text transform="translate(99.70,430.10) rotate(-90) scale(0.63,1)" text-anchor="middle" font-family="'Liberation Serif', serif" font-size="26.02" fill="#262626">5</text><text transform="translate(99.70,421.00) rotate(-90) scale(0.63,1)" text-anchor="middle" font-family="'Liberation Serif', serif" font-size="26.02" fill="#262626">2</text><text transform="translate(99.70,411.70) rotate(-90) scale(0.63,1)" text-anchor="middle" font-family="'Liberation Serif', serif" font-size="26.02" fill="#262626">5</text>
<text transform="translate(681.80,698.70) rotate(-90) scale(0.63,1)" text-anchor="middle" font-family="'Liberation Serif', serif" font-size="26.17" fill="#262626">1</text><text transform="translate(681.80,689.60) rotate(-90) scale(0.63,1)" text-anchor="middle" font-family="'Liberation Serif', serif" font-size="26.17" fill="#262626">0</text><text transform="translate(681.80,680.30) rotate(-90) scale(0.63,1)" text-anchor="middle" font-family="'Liberation Serif', serif" font-size="26.17" fill="#262626">0</text>
<text transform="translate(810.20,286.00) scale(0.63,1)" text-anchor="middle" font-family="'Liberation Serif', serif" font-size="25.56" fill="#262626">1</text><text transform="translate(819.60,286.00) scale(0.63,1)" text-anchor="middle" font-family="'Liberation Serif', serif" font-size="25.56" fill="#262626">2</text><text transform="translate(828.80,286.00) scale(0.63,1)" text-anchor="middle" font-family="'Liberation Serif', serif" font-size="25.56" fill="#262626">4</text>
<text transform="translate(823.90,548.60) scale(0.63,1)" text-anchor="middle" font-family="'Liberation Serif', serif" font-size="26.47" fill="#262626">7</text><text transform="translate(833.30,548.60) scale(0.63,1)" text-anchor="middle" font-family="'Liberation Serif', serif" font-size="26.47" fill="#262626">4</text>
<text transform="translate(714.70,529.40) scale(0.63,1)" text-anchor="middle" font-family="'Liberation Serif', serif" font-size="26.17" fill="#262626">4</text><text transform="translate(742.10,529.40) scale(0.63,1)" text-anchor="middle" font-family="'Liberation Serif', serif" font-size="26.17" fill="#262626">1</text><text transform="translate(761.50,529.40) scale(0.63,1)" text-anchor="middle" font-family="'Liberation Serif', serif" font-size="26.17" fill="#262626">2</text>
<text transform="translate(733.40,529.40) scale(0.45,1)" text-anchor="middle" font-family="'Liberation Serif', serif" font-size="26.17" fill="#262626">G</text>
<line x1="720.10" y1="520.20" x2="727.80" y2="520.20" stroke="#262626" stroke-width="1.1"/>
<line x1="748.70" y1="530.60" x2="755.10" y2="510.00" stroke="#262626" stroke-width="1.0"/>
<path d="M767.6,515.2 L770.6,509.4 L771.4,509.8 Z M770.9,515.2 L773.9,509.4 L774.7,509.8 Z" fill="#262626" stroke="#262626" stroke-width="0.7"/>
<text x="17.55" y="183.50" font-family="'Liberation Sans', sans-serif" font-weight="bold" font-size="24.70" textLength="84.23" lengthAdjust="spacingAndGlyphs" fill="#161616" stroke="#161616" stroke-width="0.35">Rivassa</text>
<text x="109.93" y="183.50" font-family="'Liberation Sans', sans-serif" font-weight="bold" font-size="24.70" textLength="12.61" lengthAdjust="spacingAndGlyphs" fill="#161616" stroke="#161616" stroke-width="0.35">3</text>
<text x="129.03" y="183.50" font-family="'Liberation Sans', sans-serif" font-weight="bold" font-size="24.70" textLength="90.17" lengthAdjust="spacingAndGlyphs" fill="#161616" stroke="#161616" stroke-width="0.35">Column</text>
<text x="224.61" y="183.50" font-family="'Liberation Sans', sans-serif" font-weight="bold" font-size="24.70" textLength="123.15" lengthAdjust="spacingAndGlyphs" fill="#161616" stroke="#161616" stroke-width="0.35">Horizontal</text>
<text x="353.09" y="183.50" font-family="'Liberation Sans', sans-serif" font-weight="bold" font-size="24.70" textLength="43.46" lengthAdjust="spacingAndGlyphs" fill="#161616" stroke="#161616" stroke-width="0.35">600</text>
<text x="401.76" y="183.50" font-family="'Liberation Sans', sans-serif" font-weight="bold" font-size="24.70" textLength="13.36" lengthAdjust="spacingAndGlyphs" fill="#161616" stroke="#161616" stroke-width="0.35">x</text>
<text x="421.46" y="183.50" font-family="'Liberation Sans', sans-serif" font-weight="bold" font-size="24.70" textLength="109.84" lengthAdjust="spacingAndGlyphs" fill="#161616" stroke="#161616" stroke-width="0.35">1460mm.</text>
<text x="18.43" y="202.50" font-family="'Liberation Sans', sans-serif" font-weight="bold" font-size="17.40" textLength="77.53" lengthAdjust="spacingAndGlyphs" fill="#161616" stroke="#161616" stroke-width="0.35">Technical</text>
<text x="99.81" y="202.50" font-family="'Liberation Sans', sans-serif" font-weight="bold" font-size="17.40" textLength="71.97" lengthAdjust="spacingAndGlyphs" fill="#161616" stroke="#161616" stroke-width="0.35">Drawing</text>
<text transform="translate(823.48,681.20) scale(0.72,1)" font-family="'Liberation Sans', sans-serif" font-size="24.60" fill="#1e1e1e">u</text>
<text transform="translate(834.48,681.20) scale(0.72,1)" font-family="'Liberation Sans', sans-serif" font-size="24.60" fill="#1e1e1e">n</text>
<text transform="translate(845.25,681.20) scale(0.72,1)" font-family="'Liberation Sans', sans-serif" font-size="24.60" fill="#1e1e1e">i</text>
<text transform="translate(850.88,681.20) scale(0.72,1)" font-family="'Liberation Sans', sans-serif" font-size="24.60" fill="#1e1e1e">t</text>
<text transform="translate(857.96,681.20) scale(0.72,1)" font-family="'Liberation Sans', sans-serif" font-size="24.60" fill="#1e1e1e">:</text>
<text transform="translate(865.21,681.20) scale(0.72,1)" font-family="'Liberation Sans', sans-serif" font-size="24.60" fill="#1e1e1e">m</text>
<text transform="translate(881.01,681.20) scale(0.72,1)" font-family="'Liberation Sans', sans-serif" font-size="24.60" fill="#1e1e1e">m</text>
<rect x="821.5" y="745.5" width="161" height="91.6" fill="none" stroke="#3a3a3a" stroke-width="1.2"/>
<text x="821.70" y="770.20" font-family="'Liberation Sans', sans-serif" font-size="28.20" textLength="129.20" lengthAdjust="spacingAndGlyphs" fill="#2f3f58" stroke="#2f3f58" stroke-width="0.9">Eastbrook</text>
<g fill="#1fa7dc">
<path d="M960.2,751.6 Q965,750.4 970,751 T979.8,750.4 L979.8,755.6 Q975,756.2 970,755.8 T960.2,756.2 Z"/>
<path d="M960.2,758.6 Q965,757.6 970,758.2 T979.8,757.8 L979.8,762.8 Q975,763.4 970,763 T960.2,763.4 Z"/>
<path d="M960.2,766 Q965,765 970,765.6 T979.8,765.2 L979.8,770.4 Q975,771 970,770.6 T960.2,771 Z"/>
</g>
<text x="825.28" y="786.60" font-family="'Liberation Sans', sans-serif" font-size="10.00" textLength="152.47" lengthAdjust="spacingAndGlyphs" fill="#2a2a2a">Eastbrook Road, Gloucester GL4 3DB</text>
<text x="831.42" y="801.20" font-family="'Liberation Sans', sans-serif" font-size="10.00" textLength="141.09" lengthAdjust="spacingAndGlyphs" fill="#2a2a2a">Technical Helpline : 01452 317890</text>
<text x="855.84" y="815.50" font-family="'Liberation Sans', sans-serif" font-size="10.00" textLength="91.48" lengthAdjust="spacingAndGlyphs" fill="#2a2a2a">Mon - Fri / 8am - 5pm</text>
<text x="826.95" y="830.10" font-family="'Liberation Sans', sans-serif" font-size="10.00" textLength="149.26" lengthAdjust="spacingAndGlyphs" fill="#2a2a2a">Email : technical@eastbrookco.com</text>
</svg>
</body></html>
